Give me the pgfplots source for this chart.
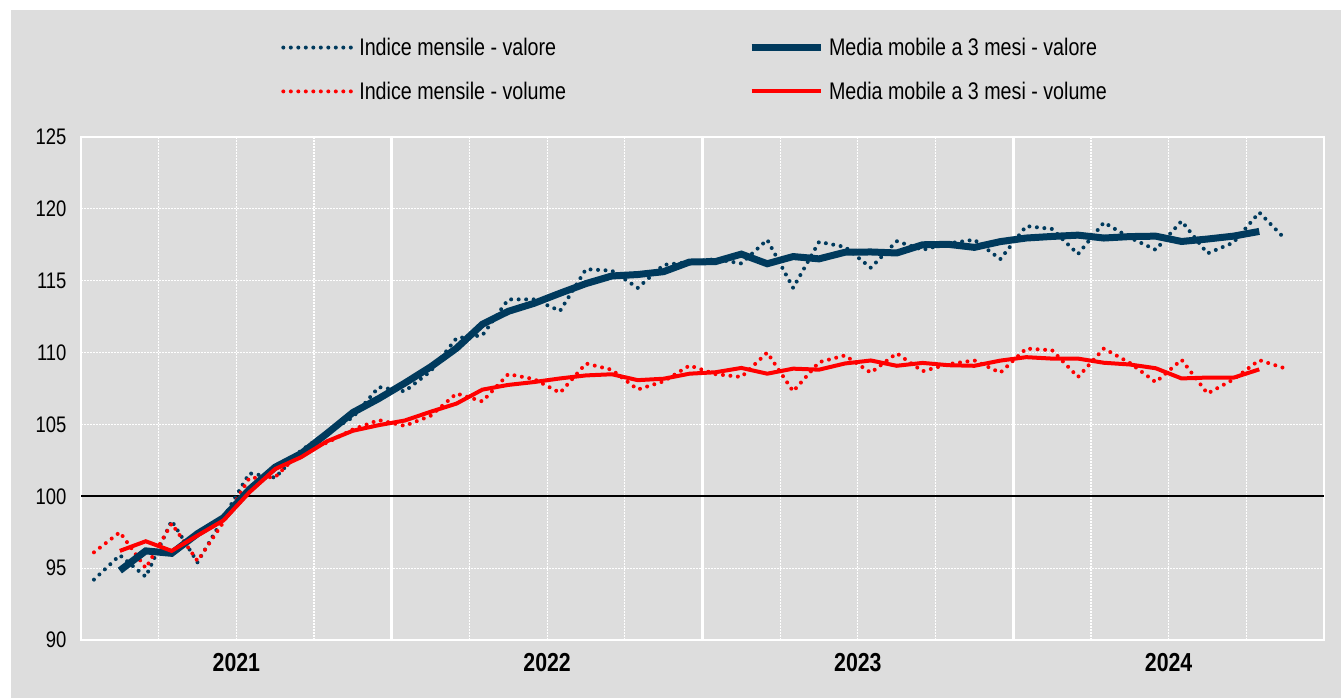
\documentclass[border=0pt]{standalone}
\usepackage{fontspec}
\setmainfont{Liberation Sans}[FakeStretch=0.82]
\usepackage{pgfplots}
\pgfplotsset{compat=1.18}
\usepackage{pgfplotstable}
\definecolor{navy}{HTML}{003A5D}
\definecolor{bg}{HTML}{DDDDDD}
\definecolor{rosso}{HTML}{FF0000}

\pgfplotstableread{
x vm vma qm qma
0.5 94.2 nan 96.1 nan
1.5 95.9 94.83 97.5 96.2
2.5 94.4 96.2 95.0 96.87
3.5 98.3 96.03 98.1 96.2
4.5 95.4 97.4 95.5 97.27
5.5 98.5 98.5 98.2 98.32
6.5 101.6 100.47 101.27 100.27
7.5 101.3 102.03 101.34 101.9
8.5 103.2 102.97 103.1 102.72
9.5 104.4 104.37 103.73 103.83
10.5 105.5 105.83 104.65 104.56
11.5 107.6 106.8 105.3 104.95
12.5 107.3 107.87 104.9 105.27
13.5 108.7 109.0 105.6 105.88
14.5 111.0 110.3 107.15 106.45
15.5 111.2 111.97 106.6 107.42
16.5 113.7 112.87 108.5 107.75
17.5 113.7 113.43 108.15 107.95
18.5 112.9 114.13 107.2 108.2
19.5 115.8 114.8 109.24 108.41
20.5 115.7 115.33 108.8 108.49
21.5 114.5 115.43 107.43 108.08
22.5 116.1 115.63 108.0 108.18
23.5 116.3 116.3 109.1 108.53
24.5 116.5 116.33 108.5 108.63
25.5 116.2 116.85 108.3 108.93
26.5 117.85 116.18 110.0 108.53
27.5 114.5 116.68 107.3 108.88
28.5 117.7 116.52 109.33 108.81
29.5 117.35 116.98 109.8 109.24
30.5 115.9 117.0 108.6 109.45
31.5 117.75 116.93 109.95 109.08
32.5 117.15 117.5 108.7 109.28
33.5 117.6 117.53 109.2 109.12
34.5 117.85 117.32 109.45 109.08
35.5 116.5 117.72 108.6 109.44
36.5 118.8 117.97 110.28 109.68
37.5 118.6 118.08 110.16 109.58
38.5 116.85 118.17 108.3 109.58
39.5 119.05 117.97 110.28 109.29
40.5 118.0 118.07 109.28 109.17
41.5 117.15 118.1 107.94 108.91
42.5 119.15 117.73 109.5 108.2
43.5 116.9 117.9 107.15 108.26
44.5 117.65 118.1 108.13 108.25
45.5 119.75 118.43 109.47 108.83
46.5 117.9 nan 108.9 nan
}\data

\begin{document}
\begin{tikzpicture}
\useasboundingbox (0,0) rectangle (1341pt,698pt);
\fill[white] (0,0) rectangle (1341pt,698pt);
\fill[bg] (11pt,0) rectangle (1341pt,688pt);
\begin{axis}[
  at={(81pt,58pt)}, anchor=south west,
  scale only axis, width=1243pt, height=503pt,
  xmin=0, xmax=48, ymin=90, ymax=125,
  axis line style={white, line width=2.5pt},
  xtick={6,18,30,42}, xticklabels={2021,2022,2023,2024},
  minor xtick={3,6,9,15,18,21,27,30,33,39,42,45},
  xminorgrids=true, xmajorgrids=false,
  minor grid style={white, line width=1.2pt, dash pattern=on 1.5pt off 1.5pt},
  extra x ticks={12,24,36}, extra x tick labels={,,},
  extra x tick style={grid=major, major grid style={white, line width=3.2pt, solid}},
  ytick={90,95,...,125},
  ymajorgrids=true,
  major grid style={white, line width=1.2pt, dash pattern=on 1.5pt off 1.5pt},
  major tick length=0pt, minor tick length=0pt,
  /pgf/number format/assume math mode=true,
  yticklabel style={font=\fontsize{22.5}{26}\selectfont, xshift=-11pt},
  xticklabel style={font=\fontsize{26}{30}\selectfont\bfseries, yshift=-10pt},
  legend columns=2,
  legend cell align=left,
  legend style={at={(axis description cs:0.161,1.201)}, anchor=north west,
    draw=none, fill=none, font=\fontsize{24}{28}\selectfont,
    inner sep=0pt, row sep=21pt,
    /tikz/every even column/.append style={column sep=180pt}},
  legend image code/.code={\draw[#1] (0pt,0pt) -- (69pt,0pt); \path (72pt,0pt);},
  mdot/.style={line width=4pt, line cap=round, dash pattern=on 0pt off 7.5pt},
]
\addlegendimage{navy, mdot}
\addlegendentry{Indice mensile - valore}
\addlegendimage{navy, line width=7pt}
\addlegendentry{Media mobile a 3 mesi - valore}
\addlegendimage{rosso, mdot}
\addlegendentry{Indice mensile - volume}
\addlegendimage{rosso, line width=4pt}
\addlegendentry{Media mobile a 3 mesi - volume}

\addplot[black, line width=1.8pt, forget plot] coordinates {(0,100) (48,100)};
\addplot[navy, mdot, forget plot] table[x=x, y=vm] {\data};
\addplot[rosso, mdot, forget plot] table[x=x, y=qm] {\data};
\addplot[navy, line width=7pt, forget plot] table[x=x, y=vma] {\data};
\addplot[rosso, line width=4pt, forget plot] table[x=x, y=qma] {\data};
\end{axis}
\end{tikzpicture}
\end{document}
